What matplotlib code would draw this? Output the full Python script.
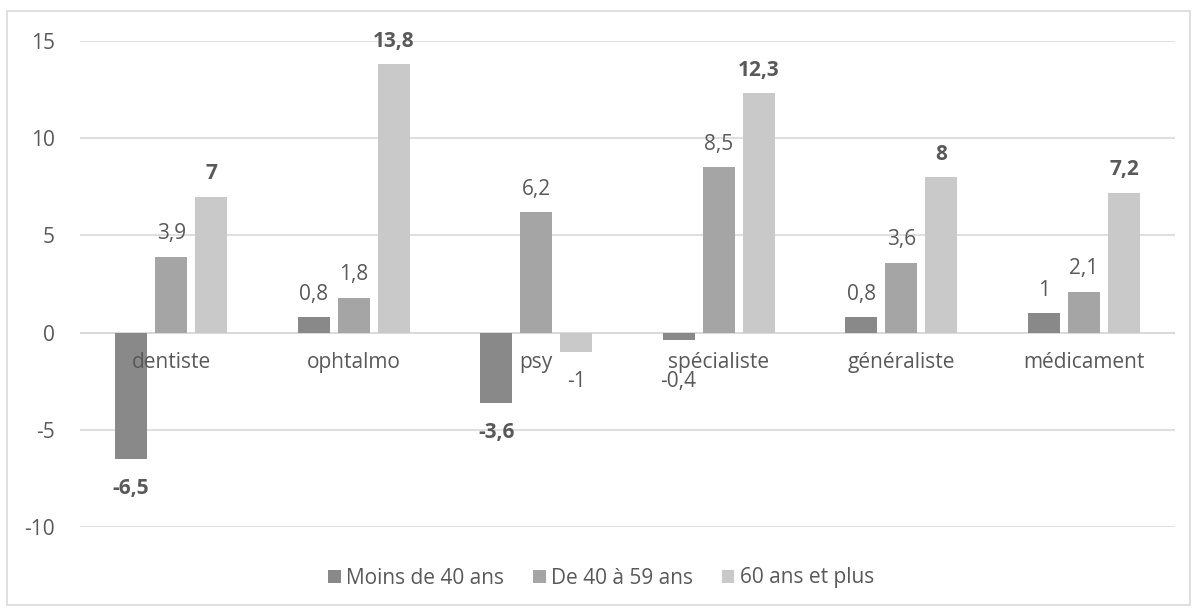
import numpy as np
import matplotlib.pyplot as plt
from matplotlib.patches import Rectangle

categories = ["dentiste", "ophtalmo", "psy", "spécialiste", "généraliste", "médicament"]
series = ["Moins de 40 ans", "De 40 à 59 ans", "60 ans et plus"]
moins_40 = [-6.5, 0.8, -3.6, -0.4, 0.8, 1]
de_40_59 = [3.9, 1.8, 6.2, 8.5, 3.6, 2.1]
plus_60 = [7, 13.8, -1, 12.3, 8, 7.2]
bold_labels = [[True, False, True, False, False, False],
               [False, False, False, False, False, False],
               [True, True, False, True, True, True]]

colors = ["#898989", "#a5a5a5", "#c9c9c9"]
txt = "#595959"
fs = 15

plt.rcParams['font.family'] = ['Open Sans', 'DejaVu Sans']

fig = plt.figure(figsize=(11.97, 6.10), dpi=100)
ax = fig.add_axes([80/1197, 1-527/610, (1175-80)/1197, (527-41)/610])

x = np.arange(len(categories))
width = 0.175
step = 0.22
for i, (vals, col) in enumerate(zip([moins_40, de_40_59, plus_60], colors)):
    pos = x + (i - 1) * step
    ax.bar(pos, vals, width, color=col, label=series[i], zorder=2)
    for j, (p, v) in enumerate(zip(pos, vals)):
        lab = ("%g" % v).replace(".", ",")
        w = "bold" if bold_labels[i][j] else "normal"
        if v >= 0:
            ax.annotate(lab, (p, v), xytext=(0, 9), textcoords="offset points",
                        ha="center", va="bottom", fontsize=fs, color=txt, fontweight=w)
        else:
            # small negatives: label pushed below the category name like Excel does
            ax.annotate(lab, (p, min(v, -1)), xytext=(0, -14), textcoords="offset points",
                        ha="center", va="top", fontsize=fs, color=txt, fontweight=w)

for j, c in enumerate(categories):
    ax.annotate(c, (x[j], 0), xytext=(0, -14), textcoords="offset points",
                ha="center", va="top", fontsize=fs, color=txt)

ax.set_xlim(-0.5, len(categories) - 0.5)
ax.set_ylim(-10, 15)
ax.set_yticks([-10, -5, 0, 5, 10, 15])
ax.set_yticklabels(["-10", "-5", "0", "5", "10", "15"])
ax.tick_params(axis="y", length=0, pad=18, labelsize=fs, labelcolor=txt)
ax.set_xticks([])
ax.grid(axis="y", color="#d9d9d9", linewidth=1.2, zorder=0)
ax.axhline(0, color="#d9d9d9", linewidth=1.2, zorder=1)
for s in ax.spines.values():
    s.set_visible(False)

fig.patches.append(Rectangle((7/1197, 5/610), 1183/1197, 594/610, transform=fig.transFigure,
                             fill=False, edgecolor="#d9d9d9", linewidth=1.2))

fig.legend(loc="center", bbox_to_anchor=(601/1197, 1-578/610), ncol=3, frameon=False,
           fontsize=fs, labelcolor=txt, handlelength=0.6, handleheight=0.6,
           handletextpad=0.25, columnspacing=1.4)

fig.savefig("out.png", dpi=100)
